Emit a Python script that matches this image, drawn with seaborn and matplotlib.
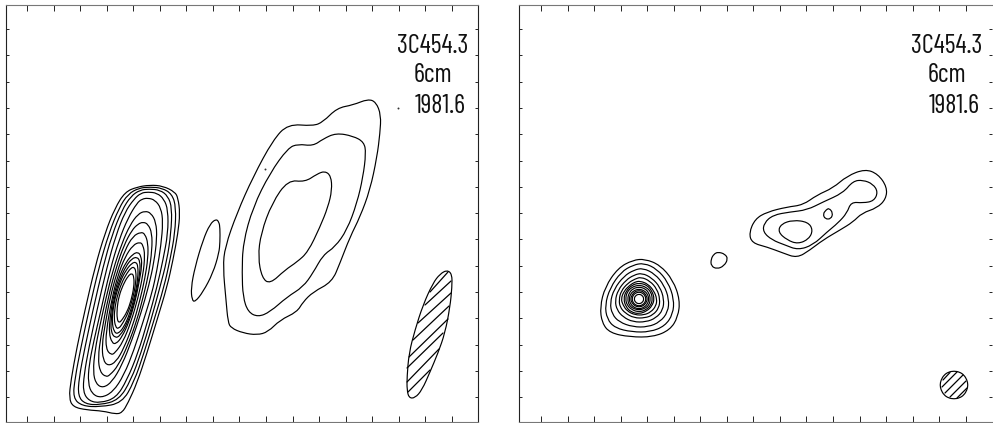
import matplotlib
matplotlib.use("Agg")
import matplotlib.pyplot as plt
from matplotlib.patches import PathPatch
from matplotlib.path import Path
import numpy as np
import pandas as pd
import seaborn as sns

# contour outlines, in scan pixel coordinates
left_core_1 = [(150,185),(163,186),(175,192),(178,198),(180,213),(178,233),(173,260),(167,287),(157,320),(147,353),(137,383),(128,403),(122,413),(115,414),(103,411),(87,410),(73,407),(69,398),(71,380),(77,347),(85,310),(95,267),(105,233),(115,208),(125,192),(137,187)]
left_core_2 = [(150,187),(162,188),(172,194),(176,207),(175,233),(170,260),(164,287),(154,320),(144,353),(134,382),(122,403),(100,407),(82,406),(73,398),(75,378),(81,347),(89,310),(99,267),(109,233),(119,208),(128,194),(139,188)]
left_core_3 = [(149,189),(160,190),(168,196),(172,208),(171,233),(167,260),(160,287),(151,320),(141,353),(131,380),(119,400),(100,405),(85,404),(78,396),(79,378),(85,347),(93,310),(103,267),(112,235),(122,210),(131,196),(140,190)]
left_core_4 = [(148,192),(157,193),(164,199),(168,210),(168,233),(163,260),(157,287),(148,320),(138,353),(127,380),(116,398),(100,403),(89,401),(83,392),(84,375),(89,347),(97,310),(107,267),(116,235),(125,212),(134,199),(141,193)]
left_core_5 = [(148,198),(155,200),(161,208),(163,222),(161,245),(157,270),(152,293),(143,322),(134,350),(124,375),(113,392),(101,398),(92,394),(88,383),(89,365),(94,340),(101,310),(110,270),(119,240),(128,218),(137,203),(142,199)]
left_core_6 = [(145,211),(151,213),(156,222),(157,238),(154,262),(149,285),(141,313),(132,340),(122,365),(112,382),(103,388),(96,384),(93,372),(95,350),(100,325),(106,298),(113,270),(122,243),(130,225),(138,214)]
left_core_7 = [(143,222),(148,224),(152,233),(152,250),(149,272),(144,294),(137,320),(128,345),(118,366),(110,375),(106,377),(100,372),(98,358),(101,335),(108,298),(116,268),(124,245),(132,230),(138,224)]
left_core_8 = [(141,232),(145,234),(148,243),(148,258),(145,278),(140,300),(133,325),(124,348),(116,362),(108,366),(103,360),(102,345),(105,325),(110,298),(117,272),(125,250),(133,236)]
left_core_9 = [(140,242),(143,245),(145,255),(143,275),(138,298),(131,322),(123,342),(115,353),(111,355),(106,349),(106,332),(112,298),(118,275),(125,257),(133,245)]
left_core_10 = [(138,252),(141,256),(142,265),(139,283),(135,302),(129,322),(122,337),(116,344),(112,343),(109,333),(110,318),(113,298),(119,277),(126,262),(133,254)]
left_core_11 = [(137,257),(140,261),(140,272),(137,289),(133,307),(127,324),(120,336),(115,338),(111,332),(111,320),(114,298),(119.5,280),(126,266),(132,258.5)]
left_core_12 = [(136,262),(138,266),(138,278),(135,295),(130,313),(124,327),(118,334),(114,332),(112,322),(113,310),(115,298),(120,282),(126,270),(132,263)]
left_core_13 = [(134,267),(136,271),(136,282),(133,298),(128.5,312),(123,323),(118.5,329),(115.5,327),(114,318),(115,307),(117,297),(121.5,283),(127,273),(131,268)]
left_core_14 = [(132,273),(134,277),(134,287),(131,301),(127,312),(122,320),(119,323),(117,319),(117,308),(119,296),(123,285),(128,276)]
left_blob = [(216,219),(219,222),(220,228),(220,242),(219,253),(213,273),(203,292),(195,302),(192,300),(191,288),(195,267),(203,240),(210,224)]
left_jet_1 = [(368,99),(376,102),(381,115),(380,133),(377,157),(370,190),(360,217),(350,237),(340,263),(332,282),(313,292),(303,302),(297,312),(280,320),(268,332),(257,335),(243,333),(231,328),(228,322),(226,300),(223,267),(225,247),(237,213),(253,177),(273,140),(288,124),(313,126),(323,122),(337,108),(353,105)]
left_jet_2 = [(336,133),(353,136),(364,142),(366,153),(363,177),(357,203),(347,230),(335,247),(323,255),(313,273),(303,287),(287,297),(270,312),(258,317),(248,312),(243,297),(242,273),(243,243),(253,207),(270,173),(288,148),(298,144),(313,146),(323,139)]
left_jet_3 = [(325,171),(331,176),(332,190),(328,207),(320,227),(308,252),(297,262),(285,270),(270,284),(262,278),(258,257),(261,233),(272,203),(288,180),(305,182),(317,174)]
left_beam = [(447,270),(452,274),(452,287),(450,307),(445,333),(438,353),(430,372),(422,390),(415,398),(409,398),(407,390),(407,377),(409,353),(415,330),(423,305),(433,283),(440,274)]
left_beam_hatch = [((430,292),(448,272)),((425,305),(451,281)),((418,323),(451,293)),((413,340),(449,306)),((409,357),(448,319)),((407,368),(443,333)),((407,382),(439,349)),((408,392),(430,370))]
left_specks = [(398,108),(265,169)]

right_core_1 = [(645,259),(660,265),(673,280),(680,300),(678,317),(670,330),(653,337),(630,337),(610,333),(602,323),(600,307),(605,287),(618,268),(633,260)]
right_core_2 = [(644,263),(657,269),(668,282),(674,299),(673,314),(665,326),(650,332),(632,332),(615,328),(607,319),(605,305),(610,288),(621,272),(633,265)]
right_core_3 = [(643,268),(655,274),(664,285),(669,299),(668,312),(660,322),(648,327),(633,327),(619,322),(612,314),(610,303),(614,289),(624,276),(634,270)]
right_core_4 = [(642,273),(652,278),(660,287),(664,299),(663,310),(656,318),(646,322),(633,322),(623,317),(617,310),(615,301),(618,290),(626,280),(634,275)]
right_core_5 = [(641,277),(650,281),(657,289),(660,299),(659,308),(653,315),(645,318),(634,318),(625,313),(620,307),(619,300),(621,291),(628,283),(635,279)]
right_core_6 = [(640,281),(648,284),(654,291),(657,299),(656,306),(651,312),(644,315),(635,315),(627,311),(623,305),(621,299),(624,291),(630,285),(635,282)]
right_core_7 = [(639,283),(647,285),(652,291),(654.5,299),(652,306),(647,311),(639,314),(631,312),(626,307),(623.5,299),(626,291),(632,285)]
right_core_8 = [(639,285),(646,287),(651,292),(652.5,299),(651,305),(646,310),(639,312),(632,310),(627,305),(625.5,299),(627,292),(632,287)]
right_core_9 = [(639,287),(645,288.5),(649,293),(650.5,299),(649,305),(645,308.5),(639,310),(633,308.5),(629,305),(627.5,299),(629,293),(633,288.5)]
right_core_10 = [(639,289),(644,290.5),(647.5,294),(649,299),(647.5,304),(644,307.5),(639,309),(634,307.5),(630.5,304),(629,299),(630.5,294),(634,290.5)]
right_core_11 = [(639,290.5),(643,291.5),(646,295),(647.5,299),(646,303),(643,306),(639,307),(635,306),(632,303),(630.5,299),(632,295),(635,291.5)]
right_core_12 = [(639,292),(642.5,293),(645,295.5),(646,299),(645,302.5),(642.5,305),(639,306),(635.5,305),(633,302.5),(632,299),(633,295.5),(635.5,293)]
right_core_13 = [(639,294),(642.5,295.5),(644,299),(642.5,302.5),(639,304),(635.5,302.5),(634,299),(635.5,295.5)]
right_blob = [(718,252),(725,254),(728,259),(724,266),(717,269),(711,266),(711,259),(714,254)]
right_jet_1 = [(865,169),(878,174),(887,187),(886,199),(877,208),(862,213),(853,222),(840,230),(823,240),(810,250),(797,258),(783,253),(767,247),(752,243),(749,233),(755,219),(767,212),(787,207),(803,205),(817,195),(833,188),(847,176)]
right_jet_2 = [(863,180),(873,184),(878,192),(874,201),(863,203),(851,202),(847,213),(838,223),(827,232),(813,245),(798,250),(785,245),(772,240),(763,232),(764,223),(773,215),(790,212),(807,210),(823,202),(843,193),(853,181)]
right_jet_3 = [(793,220),(808,222),(813,230),(809,239),(798,244),(787,240),(778,232),(781,224)]
right_spot = [(829,208),(833,213),(831,219),(825,219),(823,214),(826,210)]
right_beam = [(954,371),(959.5,372),(964,375),(967,380),(968,385),(967,390),(964,395),(959.5,398),(954,399),(948.5,398),(944,395),(941,390),(940,385),(941,380),(944,375),(948.5,372)]
right_beam_hatch = [((943,380),(950,372.5)),((942,387),(957,372)),((945,393),(963,375)),((950,397),(966,381)),((957,398),(967,388))]

source_name = "3C454.3"
wavelength = "6cm"
epoch = "1981.6"

left_contours = [left_core_1, left_core_2, left_core_3, left_core_4, left_core_5, left_core_6, left_core_7,
                 left_core_8, left_core_9, left_core_10, left_core_11, left_core_12, left_core_13, left_core_14,
                 left_blob, left_jet_1, left_jet_2, left_jet_3, left_beam]
right_contours = [right_core_1, right_core_2, right_core_3, right_core_4, right_core_5, right_core_6, right_core_7,
                  right_core_8, right_core_9, right_core_10, right_core_11, right_core_12, right_core_13, right_blob,
                  right_jet_1, right_jet_2, right_jet_3, right_spot, right_beam]


def closed_curve(pts):
    # the read points act as control points of matplotlib's quadratic curves
    pts = np.array(pts, dtype=float)
    mids = (pts + np.roll(pts, -1, axis=0)) / 2
    verts = [mids[-1]]
    codes = [Path.MOVETO]
    for p, m in zip(pts, mids):
        verts += [p, m]
        codes += [Path.CURVE3, Path.CURVE3]
    return Path(verts, codes)


def draw_panel(ax, contours, hatch, x0, x1, xticks, text_x, specks=None):
    for pts in contours:
        ax.add_patch(PathPatch(closed_curve(pts), fill=False, ec="black", lw=0.85))
    rows = []
    for n, seg in enumerate(hatch):
        for x, y in seg:
            rows.append((n, x, y))
    df = pd.DataFrame(rows, columns=["stroke", "x", "y"])
    sns.lineplot(data=df, x="x", y="y", units="stroke", estimator=None, sort=False,
                 color="black", linewidth=0.9, ax=ax)
    if specks:
        sp = pd.DataFrame(specks, columns=["x", "y"])
        sns.scatterplot(data=sp, x="x", y="y", color="#333333", s=2, linewidth=0, ax=ax)
    ax.set_xlim(x0, x1)
    ax.set_ylim(422, 5)
    ax.set_xticks(xticks)
    ax.set_yticks(np.arange(29, 400, 26.3))
    ax.set_xticklabels([])
    ax.set_yticklabels([])
    ax.set_xlabel("")
    ax.set_ylabel("")
    ax.tick_params(axis="x", direction="in", length=4.5, width=0.7, top=True, bottom=True, color="#222222")
    ax.tick_params(axis="y", direction="in", length=2.5, width=0.7, left=True, right=True, color="#222222")
    for side, s in ax.spines.items():
        s.set_linewidth(0.8)
        s.set_color("#222222" if side in ("left", "right") else "#777777")
    font = dict(family=["Barlow Condensed", "Liberation Sans", "DejaVu Sans"], fontsize=19, color="#111111", va="baseline")
    ax.text(text_x, 53, source_name, ha="right", **font)
    ax.text(text_x - 35, 82, wavelength, ha="center", **font)
    ax.text(text_x - 2, 113, epoch, ha="right", **font)


sns.set_theme(style="white")
W, H = 993, 423
fig = plt.figure(figsize=(W / 100, H / 100), dpi=100)
ax1 = fig.add_axes([6 / W, 1 - 422 / H, 472 / W, 417 / H])
ax2 = fig.add_axes([519 / W, 1 - 422 / H, 473 / W, 417 / H])

draw_panel(ax1, left_contours, left_beam_hatch, 6, 478, np.arange(27, 478, 26.55), 468, left_specks)
draw_panel(ax2, right_contours, right_beam_hatch, 519, 992, np.arange(541, 992, 26.55), 982)
ax2.spines["right"].set_visible(False)

fig.savefig("out.png", dpi=100)
